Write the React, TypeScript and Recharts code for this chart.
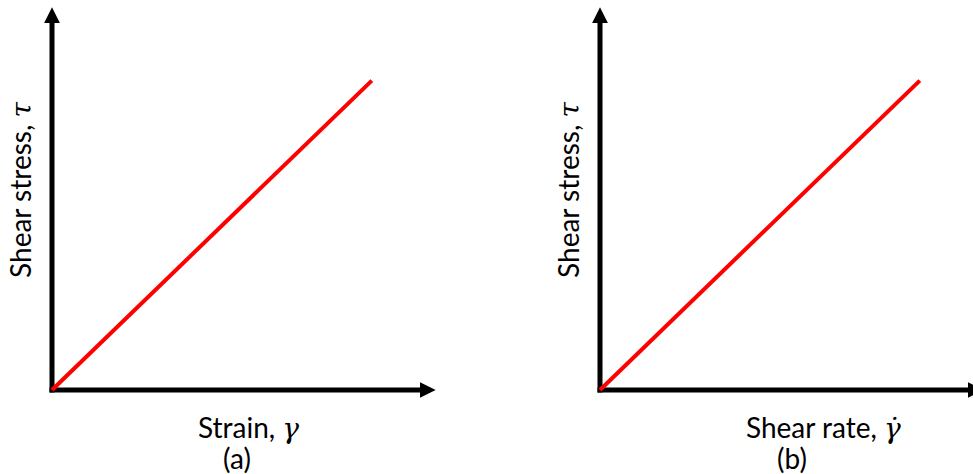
import React from 'react';
import { LineChart, Line, XAxis, YAxis, ReferenceLine } from 'recharts';

// Axis domain shared by both panels; arrow shafts stop short of the max so the head ends at it.
const axisDomain = [0, 10];
const arrowShaftEnd = 9.6;

// Panel (a): shear stress vs. strain (elastic solid)
const strainValues = [0, 8.35];
const stressVsStrain = [0, 8.1];

// Panel (b): shear stress vs. shear rate (Newtonian fluid)
const shearRateValues = [0, 8.35];
const stressVsRate = [0, 8.1];

const yTitle = 'Shear stress, ';
const yTitleSymbol = 'τ';
const xTitles = ['Strain, ', 'Shear rate, '];
const xTitleSymbols = ['γ', 'γ\u0307'];
const panelTags = ['(a)', '(b)'];

const FONT = 'Lato, "Open Sans", sans-serif';
const GREEK_FONT = '"DejaVu Serif", "Liberation Serif", serif';

function toRows(xs: number[], ys: number[]) {
  return xs.map((x, i) => ({ x, y: ys[i] }));
}

type PanelProps = {
  left: number;
  width: number;
  marginLeft: number;
  marginRight: number;
  rows: { x: number; y: number }[];
};

function Panel({ left, width, marginLeft, marginRight, rows }: PanelProps) {
  return (
    <div style={{ position: 'absolute', left, top: 0 }}>
      <LineChart
        width={width}
        height={474}
        data={rows}
        margin={{ top: 8, right: marginRight, bottom: 84, left: marginLeft }}
      >
        <XAxis type="number" dataKey="x" domain={axisDomain} hide />
        <YAxis type="number" domain={axisDomain} hide />
        <ReferenceLine
          segment={[{ x: 0, y: 0 }, { x: arrowShaftEnd, y: 0 }]}
          stroke="#000"
          strokeWidth={5}
          strokeLinecap="square"
          markerEnd="url(#axisArrow)"
        />
        <ReferenceLine
          segment={[{ x: 0, y: 0 }, { x: 0, y: arrowShaftEnd }]}
          stroke="#000"
          strokeWidth={5}
          strokeLinecap="square"
          markerEnd="url(#axisArrow)"
        />
        <Line
          type="linear"
          dataKey="y"
          stroke="#ff0000"
          strokeWidth={4}
          dot={false}
          activeDot={false}
          isAnimationActive={false}
        />
      </LineChart>
    </div>
  );
}

export default function App() {
  return (
    <div
      style={{
        position: 'absolute',
        left: 0,
        top: 0,
        width: 973,
        height: 474,
        overflow: 'hidden',
        background: '#fff',
      }}
    >
      <svg width={0} height={0} style={{ position: 'absolute' }}>
        <defs>
          <marker
            id="axisArrow"
            markerUnits="userSpaceOnUse"
            markerWidth={16}
            markerHeight={16}
            viewBox="0 0 16 16"
            refX={0}
            refY={8}
            orient="auto"
          >
            <path d="M0,0 L16,8 L0,16 Z" fill="#000" />
          </marker>
        </defs>
      </svg>

      <Panel left={0} width={486} marginLeft={52} marginRight={51} rows={toRows(strainValues, stressVsStrain)} />
      <Panel left={486} width={498} marginLeft={114} marginRight={1} rows={toRows(shearRateValues, stressVsRate)} />

      <svg
        width={973}
        height={474}
        style={{ position: 'absolute', left: 0, top: 0, pointerEvents: 'none' }}
        fontFamily={FONT}
        fontSize={28}
        fill="#000"
      >
        {[31, 579].map((bx) => (
          <text key={bx} transform={`translate(${bx},190) rotate(-90)`} textAnchor="middle">
            {yTitle}
            <tspan fontFamily={GREEK_FONT} fontStyle="italic">{yTitleSymbol}</tspan>
          </text>
        ))}
        <text x={198} y={438}>
          {xTitles[0]}
          <tspan fontFamily={GREEK_FONT} fontStyle="italic">{xTitleSymbols[0]}</tspan>
        </text>
        <text x={746} y={438}>
          {xTitles[1]}
          <tspan fontFamily={GREEK_FONT} fontStyle="italic">{xTitleSymbols[1]}</tspan>
        </text>
        <text x={237} y={469} textAnchor="middle">{panelTags[0]}</text>
        <text x={792} y={469} textAnchor="middle">{panelTags[1]}</text>
      </svg>
    </div>
  );
}
